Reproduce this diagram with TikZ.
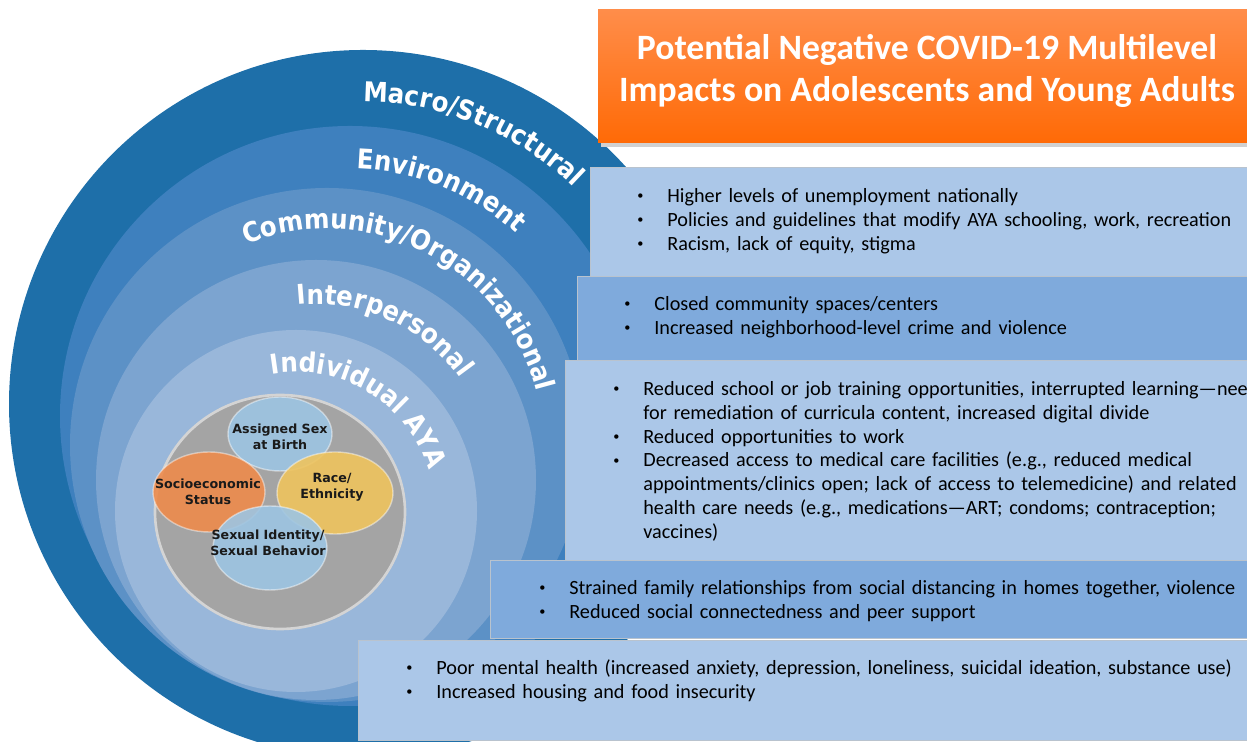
\documentclass[tikz,border=0pt]{standalone}
\usepackage{fontspec}
\setmainfont{Carlito}
\newfontfamily\ringfont{DejaVu Sans Condensed}
\newfontfamily\traitfont{DejaVu Sans}
\usetikzlibrary{decorations.text}

\definecolor{ringA}{HTML}{1E6FA9}
\definecolor{ringB}{HTML}{3E80BE}
\definecolor{ringC}{HTML}{5C91C6}
\definecolor{ringD}{HTML}{7CA4D0}
\definecolor{ringE}{HTML}{99B7DA}
\definecolor{boxlight}{HTML}{ABC7E8}
\definecolor{boxdark}{HTML}{7FAADC}
\definecolor{boxline}{HTML}{B9C3CE}
\definecolor{titletop}{HTML}{FF8D4A}
\definecolor{titlebot}{HTML}{FF6A06}
\definecolor{disc}{HTML}{A4A4A4}
\definecolor{discrim}{HTML}{D4D4D4}
\definecolor{traitblue}{HTML}{9DC5E3}
\definecolor{traitorange}{HTML}{EE8B4C}
\definecolor{traityellow}{HTML}{EFC45E}
\definecolor{traittext}{HTML}{1A1A1A}

% small bullet with hanging indent
\newcommand\bitem{\par\noindent\hangindent=0.6cm\hangafter=1%
	\makebox[0.6cm][l]{\raisebox{0.25ex}{\fontsize{7}{7}\selectfont\textbullet}}}

\tikzset{
ringlabel/.style={
	decorate,
	decoration={text along path, text align=left,
		text={|\ringfont\bfseries\fontsize{15.5}{18}\selectfont\color{white}|#1}}
},
impactbox/.style={fill=#1, draw=boxline, line width=0.5pt},
impactlist/.style={anchor=north west, inner sep=0pt, text width=17cm, align=left,
	font=\fontsize{11.5}{13.6}\selectfont},
trait/.style={fill=#1, fill opacity=0.9, draw=white, draw opacity=0.45, line width=0.8pt},
traitlabel/.style={font=\traitfont\bfseries\fontsize{7.2}{9}\selectfont, text=traittext,
	align=center, inner sep=0pt},
titletext/.style={font=\bfseries\fontsize{20.3}{23.8}\selectfont, text=white, align=center},
}

\begin{document}
\begin{tikzpicture}[x=0.02cm, y=0.02cm]
\useasboundingbox (0,0) rectangle (1247,742);

% levels, outside in
\fill[ringA] (363,338) circle[radius=354];
\fill[ringB] (350,326) circle[radius=290];
\fill[ringC] (327,297) circle[radius=257];
\fill[ringD] (316,262) circle[radius=220];
\fill[ringE] (296,231) circle[radius=181];

% the individual
\fill[disc, draw=discrim, line width=1.5pt] (280,230) circle[x radius=125, y radius=117];
\path[trait=traitblue] (280,308) circle[x radius=52, y radius=37];
\path[trait=traitorange] (209,250) circle[x radius=56, y radius=40];
\path[trait=traityellow] (335,249) circle[x radius=58, y radius=41];
\path[trait=traitblue] (270,194) circle[x radius=57, y radius=42];
\node[traitlabel] (sex) at (280,305) {Assigned Sex\\at Birth};
\node[traitlabel] (ses) at (208,250) {Socioeconomic\\Status};
\node[traitlabel] (race) at (332,255) {Race/\\Ethnicity};
\node[traitlabel] (sexid) at (268,199) {Sexual Identity/\\Sexual Behavior};

% level names
\path[ringlabel={Macro/Structural}] (363,338) ++(90:302) arc[start angle=90, end angle=10, radius=302];
\path[ringlabel={Environment}] (350,326) ++(88.5:247) arc[start angle=88.5, end angle=10, radius=247];
\path[ringlabel={Community/Organizational}] (327,297) ++(112:216) arc[start angle=112, end angle=-20, radius=216];
\path[ringlabel={Interpersonal}] (316,262) ++(96:176) arc[start angle=96, end angle=0, radius=176];
\path[ringlabel={Individual AYA}] (296,231) ++(100:139) arc[start angle=100, end angle=-10, radius=139];

% impacts per level
\path[impactbox=boxlight] (590,466) rectangle (1260,575);
\path[impactbox=boxdark] (577,382) rectangle (1260,466);
\path[impactbox=boxlight] (565,182) rectangle (1260,382);
\path[impactbox=boxdark] (490,104) rectangle (1260,182);
\path[impactbox=boxlight] (358,2) rectangle (1260,102);

\node[impactlist] (macro) at (637,564) {
	\bitem Higher levels of unemployment nationally
	\bitem Policies and guidelines that modify AYA schooling, work, recreation
	\bitem Racism, lack of equity, stigma\par};
\node[impactlist] (environment) at (624,456) {
	\bitem Closed community spaces/centers
	\bitem Increased neighborhood-level crime and violence\par};
\node[impactlist] (community) at (613,371) {
	\bitem Reduced school or job training opportunities, interrupted learning—need\newline
	for remediation of curricula content, increased digital divide
	\bitem Reduced opportunities to work
	\bitem Decreased access to medical care facilities (e.g., reduced medical\newline
	appointments/clinics open; lack of access to telemedicine) and related\newline
	health care needs (e.g., medications—ART; condoms; contraception;\newline
	vaccines)\par};
\node[impactlist] (interpersonal) at (539,172) {
	\bitem Strained family relationships from social distancing in homes together, violence
	\bitem Reduced social connectedness and peer support\par};
\node[impactlist] (individual) at (406,92) {
	\bitem Poor mental health (increased anxiety, depression, loneliness, suicidal ideation, substance use)
	\bitem Increased housing and food insecurity\par};

% heading
\fill[black!18] (601,595) rectangle (1260,729);
\path[top color=titletop, bottom color=titlebot] (598,599) rectangle (1260,732);
\node[titletext] (title) at (927,671) {Potential Negative COVID-19 Multilevel\\Impacts on Adolescents and Young Adults};
\end{tikzpicture}
\end{document}
